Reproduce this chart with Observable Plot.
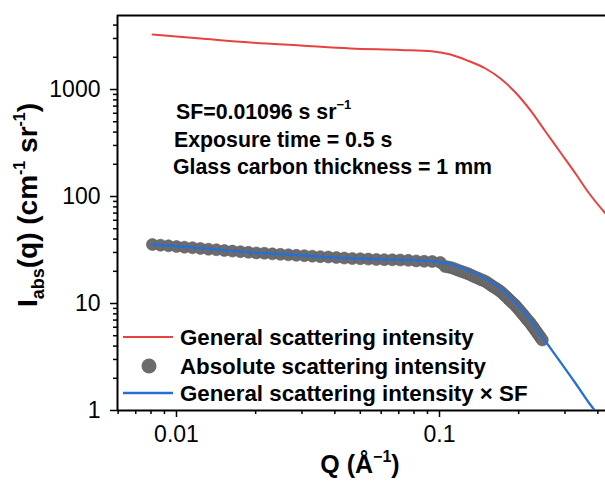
<!DOCTYPE html>
<html>
<head>
<meta charset="utf-8">
<script src="https://cdn.jsdelivr.net/npm/d3@7"></script>
<script src="https://cdn.jsdelivr.net/npm/@observablehq/plot@0.6"></script>
<style>
  html, body { margin: 0; padding: 0; background: #fff; }
  #chart { width: 605px; height: 482px; }
  svg text { font-family: "Liberation Sans", Arial, sans-serif; }
</style>
</head>
<body>
<div id="chart"></div>
<script>
// General scattering intensity (red)
const generalQ = [0.00811, 0.01234, 0.01912, 0.02962, 0.04587, 0.0711, 0.0949, 0.1101, 0.1278, 0.1496, 0.1706, 0.1945, 0.2218, 0.2529, 0.2884, 0.3289, 0.3686, 0.3784, 0.4277];
const generalI = [3266, 2998, 2748, 2578, 2417, 2340, 2265, 2125, 1866, 1572, 1267, 937, 637, 405, 258, 164, 109, 100, 69.4];
// Scale factor
const SF = 0.01096;
// General scattering intensity x SF (blue)
const scaledI = generalI.map(v => v * SF);

// Absolute scattering intensity (grey dots)
const absQ = [0.00810, 0.00869, 0.00932, 0.01000, 0.01072, 0.01150, 0.01233, 0.01323, 0.01418, 0.01521, 0.01632, 0.01750, 0.01877, 0.02013, 0.02159, 0.02315, 0.02483, 0.02663, 0.02856, 0.03063, 0.03285, 0.03523, 0.03779, 0.04053, 0.04347, 0.04662, 0.05000, 0.05362, 0.05751, 0.06168, 0.06615, 0.07095, 0.07609, 0.08160, 0.08752, 0.09386, 0.10067,
  0.105, 0.108, 0.111, 0.114, 0.117, 0.120, 0.123, 0.126, 0.129, 0.132, 0.135, 0.138, 0.141, 0.144, 0.147, 0.150, 0.153, 0.156, 0.159, 0.162, 0.165, 0.168, 0.171, 0.174, 0.177, 0.180, 0.183, 0.186, 0.189, 0.192, 0.195, 0.198, 0.201, 0.204, 0.207, 0.210, 0.213, 0.216, 0.219, 0.222, 0.225, 0.228, 0.231, 0.234, 0.237, 0.240, 0.243, 0.246];
const absI = [35.6, 35.1, 34.6, 34.1, 33.6, 33.2, 32.7, 32.2, 31.8, 31.3, 30.9, 30.5, 30.1, 29.7, 29.5, 29.1, 28.8, 28.5, 28.2, 28.0, 27.7, 27.4, 27.2, 26.9, 26.6, 26.3, 26.2, 26.0, 25.8, 25.7, 25.6, 25.5, 25.3, 25.0, 24.8, 24.7, 24.2,
  22.2, 21.9, 21.6, 21.1, 20.6, 20.1, 19.7, 19.3, 18.9, 18.4, 17.9, 17.5, 17.1, 16.7, 16.4, 16.0, 15.5, 15.0, 14.5, 14.1, 13.7, 13.3, 12.9, 12.4, 11.9, 11.5, 11.0, 10.6, 10.2, 9.87, 9.50, 9.10, 8.71, 8.33, 7.98, 7.66, 7.32, 7.03, 6.76, 6.49, 6.20, 5.93, 5.67, 5.42, 5.19, 4.96, 4.75, 4.56];

// Axes
const xDomain = [0.005967, 0.4277];
const yDomain = [1, 4918];
const xMajor = [0.01, 0.1];
const xLabels = ["0.01", "0.1"];
const xMinor = [0.006, 0.007, 0.008, 0.009, 0.02, 0.03, 0.04, 0.05, 0.06, 0.07, 0.08, 0.09, 0.2, 0.3, 0.4];
const yMajor = [1, 10, 100, 1000];
const yLabels = ["1", "10", "100", "1000"];
const yMinor = [2, 3, 4, 5, 6, 7, 8, 9, 20, 30, 40, 50, 60, 70, 80, 90, 200, 300, 400, 500, 600, 700, 800, 900, 2000, 3000, 4000];

// Legend entries and annotation
const legendLabels = ["General scattering intensity", "Absolute scattering intensity", "General scattering intensity × SF"];
const annotationLines = ["SF=0.01096 s sr", "Exposure time = 0.5 s", "Glass carbon thickness = 1 mm"];

const RED = "#e8423f";
const BLUE = "#2470d8";
const GREY = "#6c6c6c";

const general = generalQ.map((q, i) => ({q, v: generalI[i]}));
const scaled = generalQ.map((q, i) => ({q, v: scaledI[i]}));
const absolute = absQ.map((q, i) => ({q, v: absI[i]}));

const fmtX = d => xLabels[xMajor.findIndex(m => Math.abs(m - d) < 1e-9)] ?? "";
const fmtY = d => yLabels[yMajor.findIndex(m => Math.abs(m - d) < 1e-9)] ?? "";

const plot = Plot.plot({
  width: 605,
  height: 482,
  marginLeft: 117,
  marginTop: 15,
  marginRight: 0,
  marginBottom: 72,
  style: {fontFamily: "'Liberation Sans', Arial, sans-serif", fontSize: "23px", color: "#000", background: "#fff", overflow: "visible"},
  x: {type: "log", domain: xDomain},
  y: {type: "log", domain: yDomain},
  marks: [
    Plot.axisX({ticks: xMinor, tickSize: 4, tickFormat: () => "", strokeWidth: 1.5, label: null}),
    Plot.axisX({ticks: xMajor, tickSize: 7, tickPadding: 8, tickFormat: fmtX, strokeWidth: 1.5, label: null}),
    Plot.axisY({ticks: yMinor, tickSize: 4, tickFormat: () => "", strokeWidth: 1.5, label: null}),
    Plot.axisY({ticks: yMajor, tickSize: 7, tickPadding: 10, tickFormat: fmtY, strokeWidth: 1.5, label: null}),
    Plot.ruleX([xDomain[0]], {stroke: "#000", strokeWidth: 2}),
    Plot.ruleY([yDomain[0]], {stroke: "#000", strokeWidth: 2}),
    Plot.ruleY([yDomain[1]], {stroke: "#000", strokeWidth: 2}),
    Plot.line(general, {x: "q", y: "v", stroke: RED, strokeWidth: 2, clip: true, curve: "monotone-x"}),
    Plot.dot(absolute, {x: "q", y: "v", r: 6, fill: GREY, stroke: "#5c5c5c", strokeWidth: 0.6, clip: true}),
    Plot.line(scaled, {x: "q", y: "v", stroke: BLUE, strokeWidth: 2.3, clip: true, curve: "monotone-x"})
  ]
});

document.getElementById("chart").appendChild(plot);

const svg = d3.select(plot);
const font = "'Liberation Sans', Arial, sans-serif";

// Annotation
const ann = svg.append("g").attr("font-family", font).attr("font-weight", "bold").attr("font-size", 21.3)
  .attr("fill", "#000").attr("text-anchor", "start");
const annX = [176, 174, 173];
const annY = [119, 147, 174];
annotationLines.forEach((t, i) => {
  const tx = ann.append("text").attr("x", annX[i]).attr("y", annY[i]).text(t);
  if (i === 0) tx.append("tspan").attr("font-size", 13).attr("dy", -10).text("\u22121");
});

// Legend
const leg = svg.append("g").attr("font-family", font).attr("font-weight", "bold").attr("font-size", 22.3)
  .attr("fill", "#000").attr("text-anchor", "start");
const rowY = [337, 366, 393];
leg.append("line").attr("x1", 123).attr("x2", 173).attr("y1", rowY[0]).attr("y2", rowY[0]).attr("stroke", RED).attr("stroke-width", 2.2);
leg.append("circle").attr("cx", 149).attr("cy", rowY[1]).attr("r", 7.5).attr("fill", GREY);
leg.append("line").attr("x1", 123).attr("x2", 173).attr("y1", rowY[2]).attr("y2", rowY[2]).attr("stroke", BLUE).attr("stroke-width", 2.3);
legendLabels.forEach((t, i) => {
  leg.append("text").attr("x", 180).attr("y", rowY[i] + 8).text(t);
});

// Y axis title
const yt = svg.append("text")
  .attr("transform", "translate(37,205) rotate(-90)")
  .attr("text-anchor", "middle")
  .attr("font-family", font).attr("font-weight", "bold").attr("font-size", 28).attr("fill", "#000");
yt.append("tspan").text("I");
yt.append("tspan").attr("font-size", 18).attr("dy", 7).text("abs");
yt.append("tspan").attr("dy", -7).text("(q) (cm");
yt.append("tspan").attr("font-size", 16).attr("dy", -12).text("-1");
yt.append("tspan").attr("dy", 12).text(" sr");
yt.append("tspan").attr("font-size", 16).attr("dy", -12).text("-1");
yt.append("tspan").attr("dy", 12).text(")");

// X axis title
const xt = svg.append("text")
  .attr("x", 360).attr("y", 473)
  .attr("text-anchor", "middle")
  .attr("font-family", font).attr("font-weight", "bold").attr("font-size", 25).attr("fill", "#000");
xt.append("tspan").text("Q (Å");
xt.append("tspan").attr("font-size", 16).attr("dy", -11).text("\u22121");
xt.append("tspan").attr("dy", 11).text(")");
</script>
</body>
</html>
